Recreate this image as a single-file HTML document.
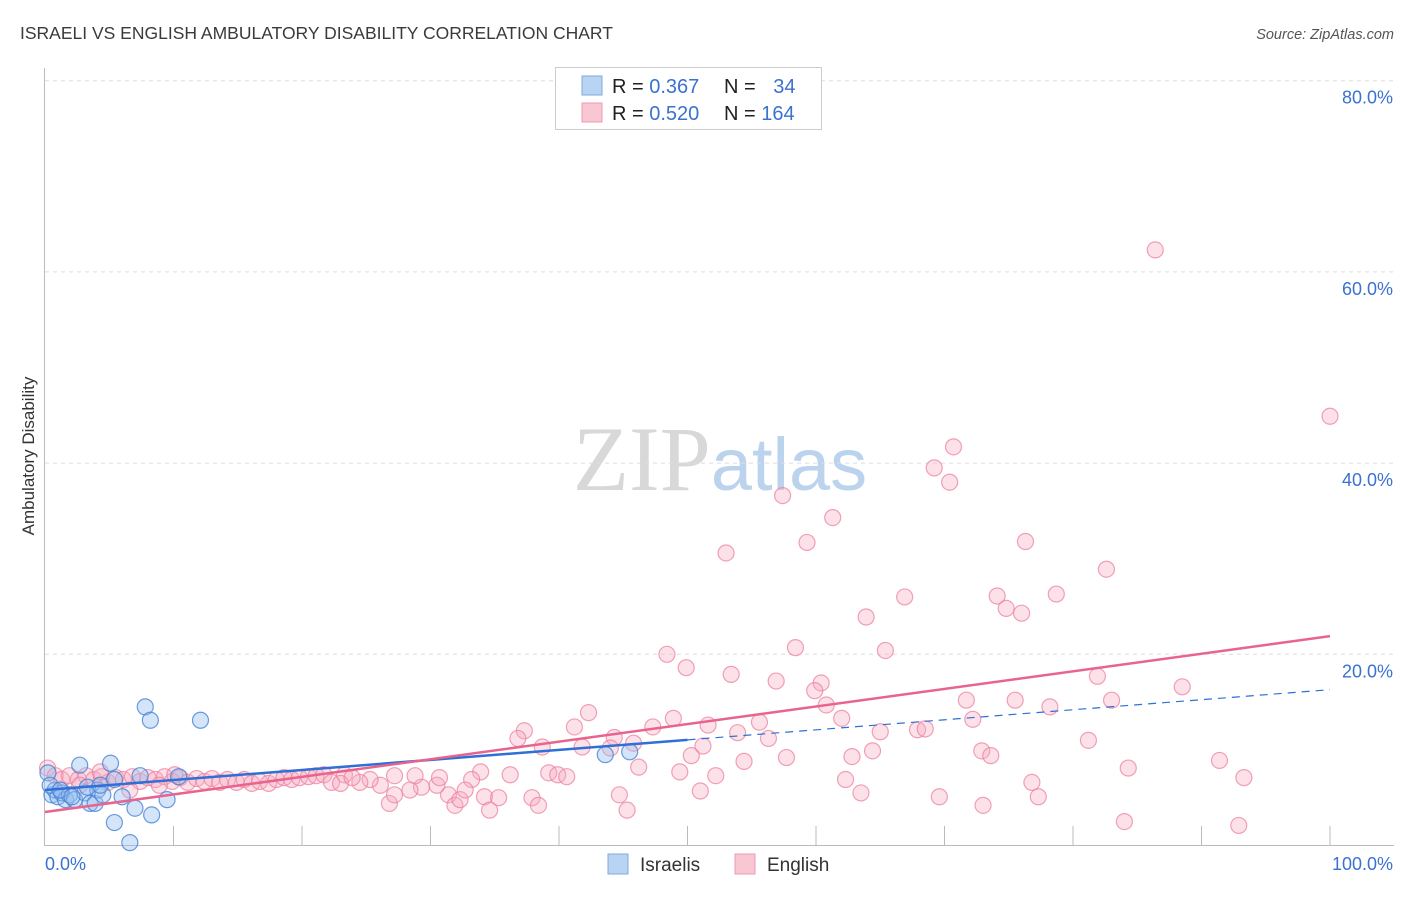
<!DOCTYPE html>
<html><head><meta charset="utf-8"><style>
body{margin:0;background:#fff;font-family:"Liberation Sans",sans-serif}
svg text{font-family:"Liberation Sans",sans-serif}
</style></head><body>
<svg id="chart" width="1406" height="892" xmlns="http://www.w3.org/2000/svg">
<text x="20" y="39" font-size="17.5" fill="#3a3a3a">ISRAELI VS ENGLISH AMBULATORY DISABILITY CORRELATION CHART</text>
<text x="1394" y="39" font-size="14.5" fill="#555" text-anchor="end" font-style="italic">Source: ZipAtlas.com</text>
<text x="720" y="490" font-size="92" text-anchor="middle"><tspan fill="#d8d8d8" font-family="Liberation Serif">ZIP</tspan><tspan fill="#bcd3ee" font-size="74">atlas</tspan></text>
<g id="grid"></g>
<g id="axes"></g>
<text transform="translate(34,456) rotate(-90)" font-size="17" fill="#333" text-anchor="middle">Ambulatory Disability</text>
<g id="pts"></g>
<g id="lines"></g>
<g>
<rect x="555.5" y="67.5" width="266" height="62" fill="#fff" stroke="#ccc"/>
<rect x="582" y="76" width="20" height="19" fill="#b9d3f3" stroke="#7fa8df"/>
<rect x="582" y="103" width="20" height="19" fill="#f9c6d4" stroke="#ec9ab2"/>
<text x="612" y="93" font-size="20" fill="#222">R = <tspan fill="#3a72d0">0.367</tspan></text>
<text x="724" y="93" font-size="20" fill="#222">N = <tspan fill="#3a72d0" dx="12">34</tspan></text>
<text x="612" y="120" font-size="20" fill="#222">R = <tspan fill="#3a72d0">0.520</tspan></text>
<text x="724" y="120" font-size="20" fill="#222">N = <tspan fill="#3a72d0">164</tspan></text>
</g>
<g>
<rect x="608" y="854" width="20" height="20" fill="#b9d3f3" stroke="#7fa8df"/>
<text x="640" y="871" font-size="19" fill="#333">Israelis</text>
<rect x="735" y="854" width="20" height="20" fill="#f9c6d4" stroke="#ec9ab2"/>
<text x="767" y="871" font-size="19" fill="#333">English</text>
</g>
</svg>
<script>
const yTicks=[20,40,60,80];
const yTickLabels=["20.0%","40.0%","60.0%","80.0%"];
const xTickLabels=["0.0%","100.0%"];
const israeliX=[0.23,0.54,0.78,1.0,1.3,1.6,1.9,2.3,2.7,3.1,3.5,3.9,4.1,4.5,5.1,5.4,6.0,7.0,7.4,7.8,8.2,8.3,9.5,10.4,12.1,5.4,6.6,43.6,45.5,0.4,1.2,2.1,3.3,4.3];
const israeliY=[7.6,5.3,5.8,5.1,5.5,4.8,5.3,4.8,8.4,5.5,4.4,4.4,5.8,5.3,8.6,6.9,5.1,3.9,7.3,14.5,13.1,3.2,4.8,7.2,13.1,2.4,0.3,9.5,9.8,6.3,5.8,5.1,6.1,6.3];
const englishX=[86.4,100,70.7,69.2,70.4,57.4,61.3,53.0,59.3,76.3,82.6,63.9,66.9,74.1,78.7,74.8,76.0,48.4,58.4,65.4,49.9,53.4,56.9,60.4,59.9,81.9,88.5,60.8,71.7,75.5,83.0,78.2,42.3,48.9,62.0,72.2,41.2,47.3,51.6,55.6,37.3,36.8,44.3,53.9,65.0,67.9,68.5,56.3,38.7,41.8,45.8,51.2,81.2,44.0,50.3,57.7,62.8,64.4,72.9,73.6,91.4,54.4,46.2,84.3,33.9,36.2,39.2,39.9,40.6,49.4,52.2,62.3,76.8,93.3,51.0,63.5,44.7,69.6,77.3,34.2,35.3,37.9,38.4,73.0,34.6,45.3,84.0,92.9,31.4,31.9,32.3,33.2,32.7,30.5,29.3,28.4,26.8,27.2,26.1,25.3,23.3,28.8,27.2,24.5,30.7,0.2,0.8,1.3,1.9,2.6,3.2,3.8,4.4,4.9,5.5,6.1,6.8,7.4,8.0,8.6,9.3,9.9,10.5,11.1,11.8,12.4,13.0,13.6,14.2,14.9,15.5,16.1,16.7,17.4,18.0,18.6,19.2,19.8,20.5,21.1,21.7,22.3,23.0,23.9,1.2,2.7,4.3,6.6,8.9,10.1];
const englishY=[62.3,44.9,41.7,39.5,38.0,36.6,34.3,30.6,31.7,31.8,28.9,23.9,26.0,26.1,26.3,24.8,24.3,20.0,20.7,20.4,18.6,17.9,17.2,17.0,16.2,17.7,16.6,14.7,15.2,15.2,15.2,14.5,13.9,13.3,13.3,13.2,12.4,12.4,12.6,12.9,12.0,11.2,11.3,11.8,11.9,12.1,12.2,11.2,10.3,10.3,10.7,10.4,11.0,10.2,9.4,9.2,9.3,9.9,9.9,9.4,8.9,8.8,8.2,8.1,7.7,7.4,7.6,7.4,7.2,7.7,7.3,6.9,6.6,7.1,5.7,5.5,5.3,5.1,5.1,5.1,5.0,5.0,4.2,4.2,3.7,3.7,2.5,2.1,5.3,4.2,4.8,6.9,5.8,6.3,6.1,5.8,4.4,5.3,6.3,6.9,7.4,7.3,7.3,6.6,7.1,8.1,7.3,6.9,7.3,6.9,7.3,6.9,7.2,6.6,7.1,6.9,7.2,6.7,7.1,6.9,7.2,6.7,7.1,6.6,7.0,6.7,7.0,6.6,6.9,6.6,6.9,6.5,6.7,6.5,6.9,7.1,6.9,7.1,7.2,7.3,7.4,6.6,6.5,7.1,5.8,6.3,7.7,5.8,6.3,7.4];
const israeliTrend=[5.8,16.3];
const englishTrend=[3.5,21.9];
const NS="http://www.w3.org/2000/svg";
const sx=v=>45+v*12.85, sy=v=>845.5-v*9.56;
function mk(tag,attrs,parent){const e=document.createElementNS(NS,tag);for(const k in attrs)e.setAttribute(k,attrs[k]);parent.appendChild(e);return e;}
const grid=document.getElementById('grid'),axes=document.getElementById('axes');
yTicks.forEach((t,i)=>{
 const l=mk('line',{x1:45,x2:1394,y1:sy(t),y2:sy(t),stroke:'#ddd','stroke-dasharray':'4,4'},grid);
 
 
 const tx=mk('text',{x:1393,y:sy(t)+23,'font-size':18,fill:'#3a72d0','text-anchor':'end'},axes);
 tx.textContent=yTickLabels[i];
 
 
});
const ax=mk('path',{d:'M44.5,68V845.5H1394',fill:'none',stroke:'#bbb'},axes);


for(let i=1;i<=10;i++){const t=mk('line',{x1:sx(i*10),x2:sx(i*10),y1:826,y2:845,stroke:'#bbb'},axes);
 
 }
const xl0=mk('text',{x:45,y:870,'font-size':18,fill:'#3a72d0'},axes);xl0.textContent=xTickLabels[0];


const xl1=mk('text',{x:1393,y:870,'font-size':18,fill:'#3a72d0','text-anchor':'end'},axes);xl1.textContent=xTickLabels[1];


const pts=document.getElementById('pts');
englishX.forEach((x,i)=>{const c=mk('circle',{cx:sx(x),cy:sy(englishY[i]),r:8,fill:'rgba(246,170,192,0.35)',stroke:'rgba(236,130,160,0.75)','stroke-width':1.2},pts);
 
 });
israeliX.forEach((x,i)=>{const c=mk('circle',{cx:sx(x),cy:sy(israeliY[i]),r:8,fill:'rgba(150,190,240,0.4)',stroke:'rgba(70,130,215,0.8)','stroke-width':1.2},pts);
 
 });
const lines=document.getElementById('lines');
const iy=x=>israeliTrend[0]+(israeliTrend[1]-israeliTrend[0])*x/100;
const l1=mk('line',{x1:sx(0),y1:sy(iy(0)),x2:sx(50),y2:sy(iy(50)),stroke:'#2f6fd6','stroke-width':2.5},lines);


const l2=mk('line',{x1:sx(50),y1:sy(iy(50)),x2:sx(100),y2:sy(iy(100)),stroke:'#2f6fd6','stroke-width':1.2,'stroke-dasharray':'8,6'},lines);


const l3=mk('line',{x1:sx(0),y1:sy(englishTrend[0]),x2:sx(100),y2:sy(englishTrend[1]),stroke:'#e8648e','stroke-width':2.5},lines);


</script>
</body></html>
